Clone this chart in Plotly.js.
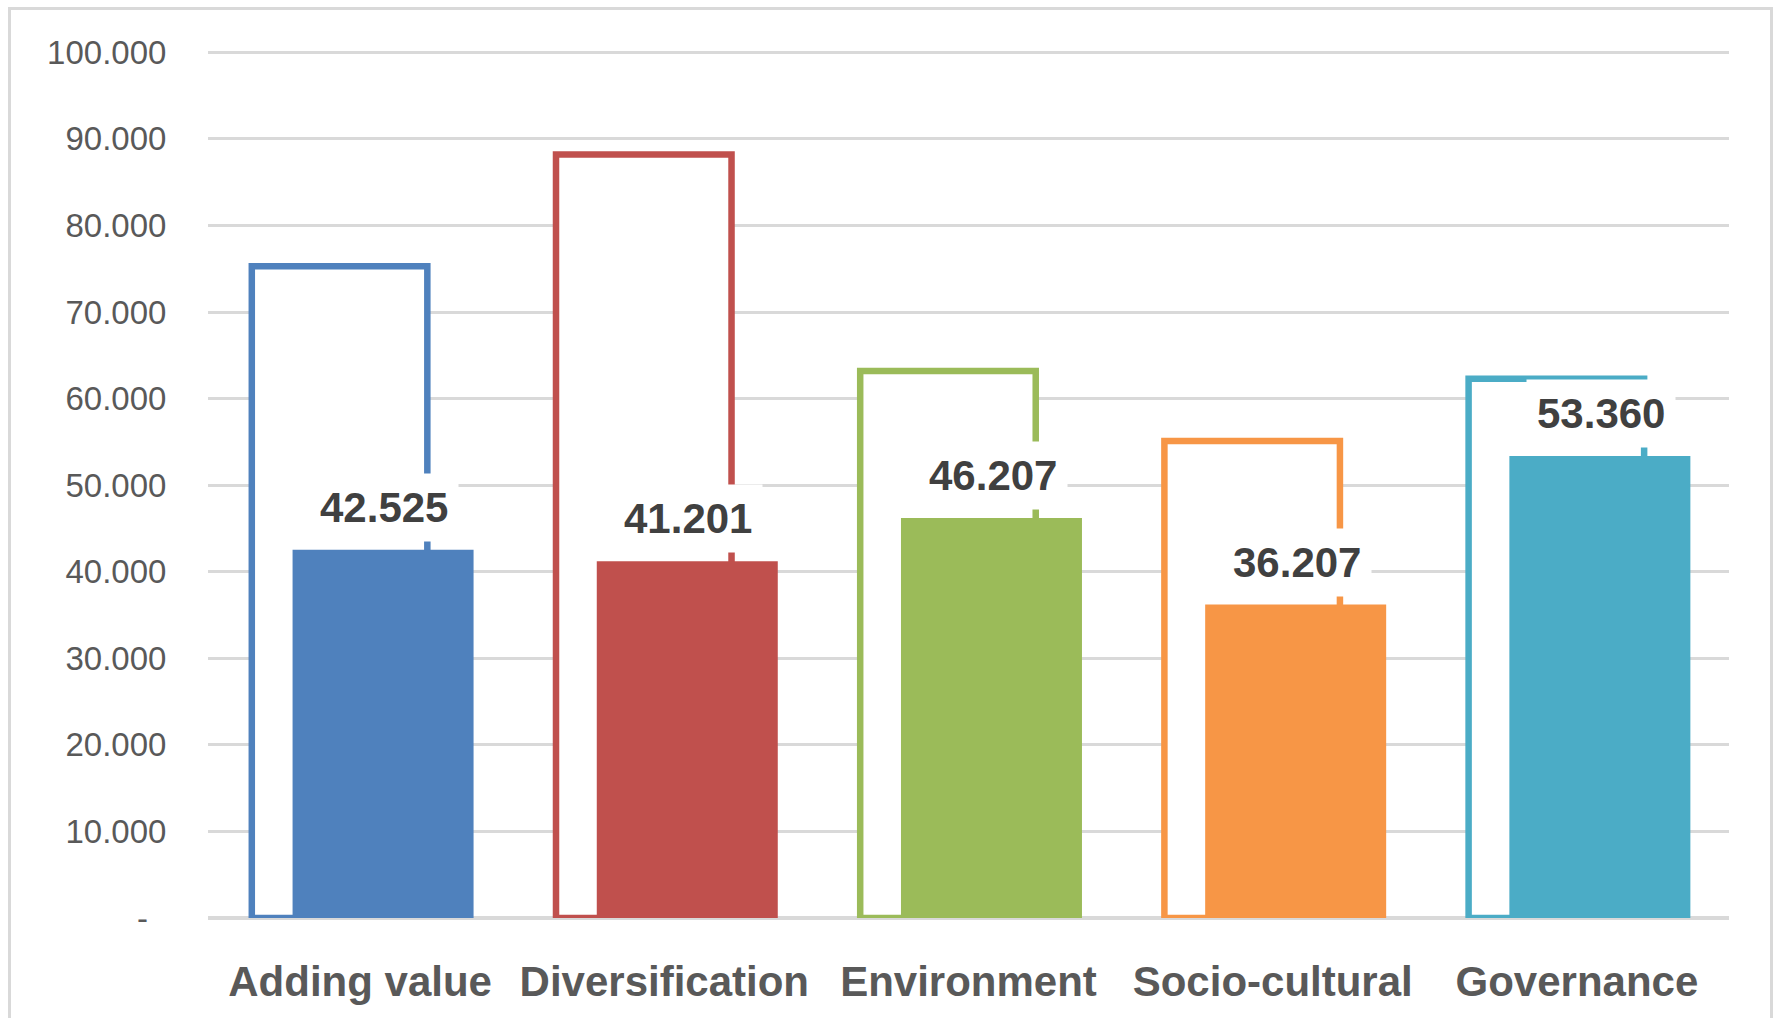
<!DOCTYPE html>
<html>
<head>
<meta charset="utf-8">
<script src="https://cdn.plot.ly/plotly-3.0.1.min.js"></script>
<style>
html,body{margin:0;padding:0;background:#ffffff;overflow:hidden;}
#chart{width:1781px;height:1018px;}
#frame{position:absolute;left:8px;top:7px;width:1765px;height:1030px;border:3px solid #d9d9d9;border-bottom:none;box-sizing:border-box;pointer-events:none;}
</style>
</head>
<body>
<div id="chart"></div>
<div id="frame"></div>
<script>
const categories = ["Adding value", "Diversification", "Environment", "Socio-cultural", "Governance"];
const targetValues = [75.3, 88.2, 63.2, 55.1, 62.3];
const scoreValues = [42.525, 41.201, 46.207, 36.207, 53.360];
const scoreLabels = ["42.525", "41.201", "46.207", "36.207", "53.360"];
const barColors = ["#4F81BD", "#C0504D", "#9BBB59", "#F79646", "#4BACC6"];
const yTickValues = [0, 10, 20, 30, 40, 50, 60, 70, 80, 90, 100];
const yTickLabels = ["-\u00a0\u00a0", "10.000", "20.000", "30.000", "40.000", "50.000", "60.000", "70.000", "80.000", "90.000", "100.000"];

const outlineTrace = {
  type: "bar",
  x: categories,
  y: targetValues,
  offset: -0.356,
  width: 0.577,
  marker: {color: "#ffffff", line: {color: barColors, width: 6.5}},
  showlegend: false,
  hoverinfo: "skip"
};

const scoreTrace = {
  type: "bar",
  x: categories,
  y: scoreValues,
  offset: -0.222,
  width: 0.595,
  marker: {color: barColors, line: {width: 0}},
  showlegend: false,
  hoverinfo: "skip"
};

const annotations = categories.map((c, i) => ({
  x: c,
  y: scoreValues[i],
  xref: "x",
  yref: "y",
  text: scoreLabels[i],
  showarrow: false,
  xanchor: "center",
  yanchor: "bottom",
  xshift: 24,
  yshift: 8,
  bgcolor: "#ffffff",
  borderpad: 10,
  font: {family: "Liberation Sans, Arial, sans-serif", size: 42, color: "#404040", weight: "bold"}
}));

const layout = {
  width: 1781,
  height: 1018,
  paper_bgcolor: "#ffffff",
  plot_bgcolor: "#ffffff",
  margin: {l: 208, r: 52, t: 48, b: 100, pad: 0},
  barmode: "overlay",
  showlegend: false,
  hovermode: false,
  xaxis: {
    type: "category",
    showgrid: false,
    zeroline: false,
    showline: false,
    ticks: "outside",
    ticklen: 27,
    tickcolor: "rgba(0,0,0,0)",
    tickfont: {family: "Liberation Sans, Arial, sans-serif", size: 42, color: "#595959", weight: "bold"},
    fixedrange: true
  },
  yaxis: {
    range: [0, 100.5],
    tickvals: yTickValues,
    ticktext: yTickLabels,
    showgrid: true,
    gridcolor: "#d9d9d9",
    gridwidth: 3,
    zeroline: true,
    zerolinecolor: "#d9d9d9",
    zerolinewidth: 4,
    showline: false,
    ticks: "outside",
    ticklen: 34,
    tickcolor: "rgba(0,0,0,0)",
    tickfont: {family: "Liberation Sans, Arial, sans-serif", size: 33, color: "#595959"},
    fixedrange: true
  },
  annotations: annotations
};

Plotly.newPlot("chart", [outlineTrace, scoreTrace], layout, {staticPlot: true, displayModeBar: false});
</script>
</body>
</html>
